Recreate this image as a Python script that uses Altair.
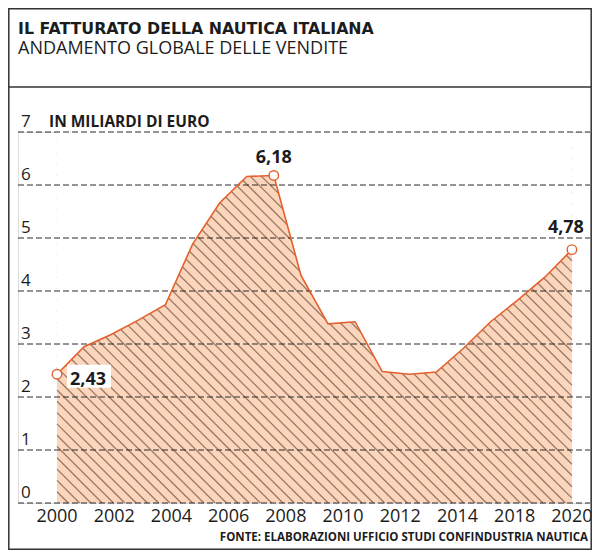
import altair as alt
import pandas as pd

# ---- data ----
years = list(range(2000, 2020))
values = [2.43, 2.95, 3.18, 3.45, 3.74, 4.88, 5.66, 6.16, 6.18, 4.30,
          3.38, 3.42, 2.48, 2.43, 2.47, 2.92, 3.42, 3.83, 4.26, 4.78]

tick_labels = ["2000", "2002", "2004", "2006", "2008",
               "2010", "2012", "2014", "2018", "2020"]
y_ticks = [0, 1, 2, 3, 4, 5, 6, 7]

callout_years = [2000, 2008, 2019]
callout_values = [2.43, 6.18, 4.78]
callout_text = ["2,43", "6,18", "4,78"]

TITLE = "IL FATTURATO DELLA NAUTICA ITALIANA"
SUBTITLE = "ANDAMENTO GLOBALE DELLE VENDITE"
UNIT = "IN MILIARDI DI EURO"
SOURCE = "FONTE: ELABORAZIONI UFFICIO STUDI CONFINDUSTRIA NAUTICA"

# ---- layout / style constants ----
W, H = 572, 371
PAD_L, PAD_T, PAD_R, PAD_B = 10, 124, 2, 47
PX_PER_YEAR = 27.1
LEFT_PX = 39
x_lo = 2000 - LEFT_PX / PX_PER_YEAR
x_hi = x_lo + W / PX_PER_YEAR
FONT = "Open Sans"
INK = "#1c1c1c"
ORANGE = "#e4602c"
PEACH = "#fbd6bd"
STRIPE = "#9c7862"

df = pd.DataFrame({"year": years, "value": values})
callouts = pd.DataFrame({"year": callout_years, "value": callout_values,
                         "label": callout_text, "idx": [0, 1, 2]})
yt = pd.DataFrame({"v": y_ticks, "t": [str(v) for v in y_ticks]})

n_lab = len(tick_labels)
xt = pd.DataFrame({
    "pos": [2000 + i * (2019 - 2000) / (n_lab - 1) for i in range(n_lab)],
    "t": tick_labels,
})

xs = alt.Scale(domain=[x_lo, x_hi], nice=False, zero=False)
ys = alt.Scale(domain=[0, 7], nice=False, zero=False)
X = lambda f: alt.X(f, scale=xs, axis=None)
Y = lambda f: alt.Y(f, scale=ys, axis=None)

base = alt.Chart(df)

area = base.mark_area(color=PEACH, opacity=1, interpolate="linear").encode(
    x=X("year:Q"), y=Y("value:Q"))

# diagonal hatching, clipped to the data range, masked above the line
K = PX_PER_YEAR / 53.0
L = 7 / K
STEP = 11.3 / PX_PER_YEAR
stripes = alt.Chart(alt.sequence(0, 82, 1, as_="i")).transform_calculate(
    b="2000 + datum.i * %f" % STEP
).transform_calculate(
    x1="max(datum.b - %f, 2000)" % L,
    x2="min(datum.b, 2019)",
).transform_calculate(
    y1="(datum.b - datum.x1) * %f" % K,
    y2="(datum.b - datum.x2) * %f" % K,
).transform_filter("datum.x1 < datum.x2").mark_rule(
    color=STRIPE, strokeWidth=1.3
).encode(x=X("x1:Q"), y=Y("y1:Q"), x2="x2:Q", y2="y2:Q")

mask = base.mark_area(color="white", opacity=1, interpolate="linear").encode(
    x=X("year:Q"), y=Y("value:Q"), y2=alt.datum(7))

grid = alt.Chart(yt).mark_rule(
    color="#2a2a2a", strokeWidth=1, strokeDash=[6, 3]
).encode(x=alt.value(0), x2=alt.value(W), y=Y("v:Q"))

line = base.mark_line(color=ORANGE, strokeWidth=1.6).encode(
    x=X("year:Q"), y=Y("value:Q"))

cbase = alt.Chart(callouts)
label_box = cbase.transform_filter("datum.idx == 0").mark_rect(
    color="white", xOffset=10, x2Offset=54, yOffset=-9.5, y2Offset=13.5
).encode(x=X("year:Q"), x2="year:Q", y=Y("value:Q"), y2="value:Q")

points = cbase.mark_point(shape="circle", filled=True, fill="white",
                          stroke=ORANGE, strokeWidth=1.4, size=90,
                          opacity=1).encode(x=X("year:Q"), y=Y("value:Q"))

def callout(i, align, dx, dy):
    return cbase.transform_filter("datum.idx == %d" % i).mark_text(
        font=FONT, fontSize=18, fontWeight="bold", color=INK,
        align=align, baseline="alphabetic", dx=dx, dy=dy
    ).encode(x=X("year:Q"), y=Y("value:Q"), text="label:N")

c0 = callout(0, "left", 13, 10.5)
c1 = callout(1, "center", 0, -12.5)
c2 = callout(2, "center", -6, -17)

ylabels = alt.Chart(yt).mark_text(
    font=FONT, fontSize=17, color=INK, align="left", baseline="alphabetic", dy=-5
).encode(x=alt.value(3), y=Y("v:Q"), text="t:N")

xlabels = alt.Chart(xt).mark_text(
    font=FONT, fontSize=18, color=INK, align="center", baseline="alphabetic"
).encode(x=X("pos:Q"), y=alt.value(390), text="t:N")

unit = alt.Chart(yt).transform_filter("datum.v == 7").mark_text(
    font=FONT, fontSize=15.5, fontWeight="bold", color=INK, align="left",
    baseline="alphabetic", dy=-5, text=UNIT
).encode(x=alt.value(31), y=Y("v:Q"))

one = pd.DataFrame({"k": [0]})
title = alt.Chart(one).mark_text(
    font="DejaVu Sans", fontSize=15.8, fontWeight="bold", color=INK,
    align="left", baseline="alphabetic", text=TITLE
).encode(x=alt.value(0), y=alt.value(-98))

subtitle = alt.Chart(one).mark_text(
    font=FONT, fontSize=18, color=INK, align="left",
    baseline="alphabetic", text=SUBTITLE
).encode(x=alt.value(0), y=alt.value(-78.5))

source = alt.Chart(one).mark_text(
    font=FONT, fontSize=11.5, fontWeight="bold", color=INK, align="right",
    baseline="alphabetic", text=SOURCE
).encode(x=alt.value(570), y=alt.value(409))

border = alt.Chart(one).mark_rect(
    fillOpacity=0, stroke="#333333", strokeWidth=1.5
).encode(x=alt.value(-PAD_L + 0.8), x2=alt.value(W + PAD_R - 0.8),
         y=alt.value(-PAD_T + 0.8), y2=alt.value(H + PAD_B - 0.8))

separator = alt.Chart(one).mark_rule(color="#333333", strokeWidth=1.3).encode(
    x=alt.value(-PAD_L), x2=alt.value(W + PAD_R), y=alt.value(-45))

chart = alt.layer(
    area, stripes, mask, grid, label_box, line, points, c0, c1, c2,
    ylabels, xlabels, unit, title, subtitle, source, border, separator
).properties(
    width=W, height=H,
    padding={"left": PAD_L, "top": PAD_T, "right": PAD_R, "bottom": PAD_B},
    autosize=alt.AutoSizeParams(type="none"),
).configure_view(stroke=None).configure(background="white")

chart.save("out.html", embed_options={"renderer": "svg", "actions": False})
